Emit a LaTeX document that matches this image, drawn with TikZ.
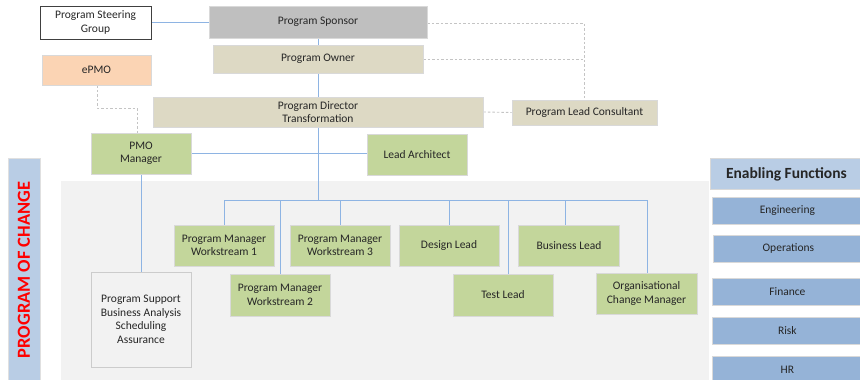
\documentclass[tikz,border=0pt]{standalone}
\usepackage{fontspec}
\setmainfont{Carlito}
\usetikzlibrary{calc}
\pgfdeclarelayer{background}
\pgfsetlayers{background,main}
\definecolor{sponsorgray}{HTML}{BFBFBF}
\definecolor{tan}{HTML}{DDD9C4}
\definecolor{peach}{HTML}{FBD4B4}
\definecolor{leaf}{HTML}{C3D69B}
\definecolor{bgray}{HTML}{F2F2F2}
\definecolor{lightblue}{HTML}{B9CDE5}
\definecolor{midblue}{HTML}{95B3D7}
\definecolor{linkblue}{HTML}{8EB4E3}
\definecolor{dashgray}{HTML}{C4C4C4}
\definecolor{txt}{HTML}{262626}
\begin{document}
\begin{tikzpicture}[x=1pt,y=-1pt,
  box/.style={rectangle,draw=black!15,line width=0.8pt,align=center,text=txt,
    font=\fontsize{11.5}{13.5}\selectfont,inner sep=0pt},
  greenbox/.style={box,fill=leaf,minimum width=100pt,minimum height=41pt},
  fnbox/.style={box,fill=midblue,minimum width=150pt,minimum height=27pt,anchor=north west},
  link/.style={draw=linkblue,line width=0.9pt},
  dlink/.style={draw=dashgray,line width=0.9pt,dash pattern=on 2.5pt off 2pt}]
\useasboundingbox (0,0) rectangle (860,380);
% background panels
\begin{pgfonlayer}{background}
\fill[bgray] (61,181) rectangle (709,384);
\end{pgfonlayer}
\node[rectangle,fill=lightblue,draw=black!12,line width=0.6pt,minimum width=32pt,minimum height=226pt,anchor=north west,inner sep=0pt] (poc) at (8,158) {};
\node[rotate=90,text=red,font=\fontsize{18.4}{20}\selectfont\bfseries] (poclabel) at (24,270) {PROGRAM OF CHANGE};
% top nodes
\node[box,fill=white,draw=black!75,minimum width=111pt,minimum height=33pt] (steer) at (95.5,22.5) {Program Steering\\Group};
\node[box,fill=sponsorgray,minimum width=218pt,minimum height=32pt] (sponsor) at (318,22) {Program Sponsor};
\node[box,fill=tan,minimum width=210pt,minimum height=28pt] (owner) at (318,59) {Program Owner};
\node[box,fill=peach,minimum width=109pt,minimum height=30pt] (epmo) at (96.5,70) {ePMO};
\node[box,fill=tan,minimum width=330pt,minimum height=30pt] (director) at (318,112) {Program Director\\Transformation};
\node[box,fill=tan,minimum width=145pt,minimum height=25pt] (consult) at (584.5,112.5) {Program Lead Consultant};
\node[greenbox] (pmo) at (141,153.5) {PMO\\Manager};
\node[greenbox] (arch) at (417,154.5) {Lead Architect};
\node[box,fill=bgray,draw=black!20,minimum width=100pt,minimum height=95pt] (support) at (141,319.5) {Program Support\\Business Analysis\\Scheduling\\Assurance};
% team nodes
\node[greenbox] (ws1) at (224,245.5) {Program Manager\\Workstream 1};
\node[greenbox,minimum height=42pt] (ws2) at (280,295) {Program Manager\\Workstream 2};
\node[greenbox] (ws3) at (340,245.5) {Program Manager\\Workstream 3};
\node[greenbox] (design) at (449,245.5) {Design Lead};
\node[greenbox,minimum height=42pt] (test) at (503,295) {Test Lead};
\node[greenbox,minimum width=101pt] (business) at (569,245.5) {Business Lead};
\node[greenbox,minimum width=101pt] (ocm) at (646.5,293.5) {Organisational\\Change Manager};
% enabling functions
\node[box,fill=lightblue,minimum width=152pt,minimum height=31pt,anchor=north west,font=\fontsize{15.5}{17}\selectfont\bfseries] (ef) at (710,158) {Enabling Functions};
\node[fnbox] (eng) at (712,197) {Engineering};
\node[fnbox] (ops) at (713,235) {Operations};
\node[fnbox] (fin) at (712,278) {Finance};
\node[fnbox] (risk) at (712,317) {Risk};
\node[fnbox] (hr) at (712,356) {HR};
% coordinates
\coordinate (busL) at (224,200);
\coordinate (busM) at (318,200);
\coordinate (busR) at (647,200);
\coordinate (bTest) at (508,200);
\coordinate (bBus) at (565,200);
\coordinate (e1) at (97,108);
\coordinate (e2) at (137,108);
\coordinate (dc) at (584,23);
% connectors (behind boxes)
\begin{pgfonlayer}{background}
\draw[link] (steer.east |- sponsor.west) -- (sponsor.west);
\draw[link] (sponsor.south) -- (owner.north);
\draw[link] (owner.south) -- (director.north);
\draw[link] (director.south) -- (busM);
\draw[link] (pmo.east) -- (pmo.east -| arch.west);
\draw[link] (pmo.south) -- (support.north);
\draw[link] (busL) -- (busR);
\draw[link] (busL) -- (ws1.north);
\draw[link] (ws2.north |- busL) -- (ws2.north);
\draw[link] (ws3.north |- busL) -- (ws3.north);
\draw[link] (design.north |- busL) -- (design.north);
\draw[link] (bTest) -- (bTest |- test.north);
\draw[link] (bBus) -- (bBus |- business.north);
\draw[link] (busR) -- (busR |- ocm.north);
\draw[dlink] (epmo.south -| e1) -- (e1) -- (e2) -- (e2 |- pmo.north);
\draw[dlink] (sponsor.east |- dc) -- (dc) -- (dc |- consult.north);
\draw[dlink] (owner.east) -- (owner.east -| dc);
\draw[dlink] (director.east) -- (consult.west);
\end{pgfonlayer}
\end{tikzpicture}
\end{document}
